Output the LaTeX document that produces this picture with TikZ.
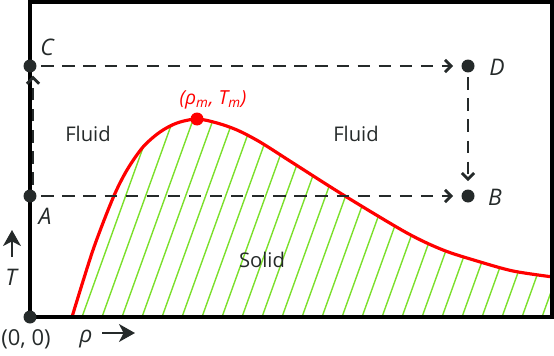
\documentclass[tikz,border=0pt]{standalone}
\usepackage{fontspec}
\setmainfont{Open Sans}
\usetikzlibrary{arrows.meta}
\definecolor{ink}{HTML}{252A2A}
\definecolor{hatchgreen}{HTML}{7CE02C}
\tikzset{
  dot/.style={circle,fill=ink,inner sep=0pt,minimum size=0.26cm},
  route/.style={ink,line width=1.6pt,dash pattern=on 7pt off 5pt,->,shorten >=4pt,shorten <=2pt},
  axisarrow/.style={ink,line width=1.7pt,-{Stealth[length=9pt,width=10pt,inset=2.5pt]}},
  lbl/.style={text=ink,font=\fontsize{13}{15}\selectfont\itshape},
  region/.style={text=ink,font=\fontsize{11.5}{13}\selectfont}
}

\begin{document}
\begin{tikzpicture}[x=0.02cm,y=-0.02cm,line width=1.5pt,>={Straight Barb[length=3.5pt,width=7pt]}]
  \useasboundingbox (0,0) rectangle (554,355);
  % solid region
  \begin{scope}
    \clip plot[smooth] coordinates {(72,317) (93,250) (113,198) (127,170) (143,147) (160,132) (177,123) (197,119) (217,123) (237,130) (260,142) (293,163) (345,196) (407,233) (443,250) (477,261) (513,271) (553,277)} -- (553,317) -- cycle;
    \foreach \x in {2,22,...,562}
      \draw[hatchgreen,line width=0.8pt] (\x,317) -- ++(120,-333);
  \end{scope}
  \draw[red,line width=1.8pt] plot[smooth] coordinates {(72,317) (93,250) (113,198) (127,170) (143,147) (160,132) (177,123) (197,119) (217,123) (237,130) (260,142) (293,163) (345,196) (407,233) (443,250) (477,261) (513,271) (553,277)};
  \draw[black,line width=2pt] (30,2) rectangle (552,317);

  \node[dot] (O) at (30,317) {};
  \node[dot] (A) at (30,196) {};
  \node[dot] (C) at (30,66) {};
  \node[dot] (D) at (468,66) {};
  \node[dot] (B) at (468,196) {};
  \node[circle,fill=red,inner sep=0pt,minimum size=0.26cm] (M) at (197,119) {};

  \draw[route] (C) -- (D);
  \draw[route] (A) -- (B);
  \draw[route] (D) -- (B);
  \draw[route,shorten >=1pt] ([xshift=0.06cm]A.north) -- ([xshift=0.06cm]C.south);

  \node[lbl] (Clbl) at (47,47) {C};
  \node[lbl] (Albl) at (45,216) {A};
  \node[lbl] (Dlbl) at (497,67) {D};
  \node[lbl] (Blbl) at (495,197) {B};
  \node[text=red,font=\fontsize{11}{13}\selectfont\itshape] (Mlbl) at (213,100) {(ρ\textsubscript{m}, T\textsubscript{m})};
  \node[region] (fluidL) at (88,134) {Fluid};
  \node[region] (fluidR) at (356,134) {Fluid};
  \node[region] (solid) at (262,260) {Solid};

  % axes
  \coordinate (Tbot) at (12,257);
  \coordinate (Ttop) at (12,230);
  \draw[axisarrow] (Tbot) -- (Ttop);
  \node[lbl] (Tlbl) at (11,277) {T};
  \node[text=ink,font=\fontsize{12.5}{14}\selectfont] (Olbl) at (26,339) {(0, 0)};
  \node[lbl] (rholbl) at (86,339) {ρ};
  \coordinate (rhoL) at (102,333);
  \coordinate (rhoR) at (135,333);
  \draw[axisarrow] (rhoL) -- (rhoR);
\end{tikzpicture}
\end{document}
